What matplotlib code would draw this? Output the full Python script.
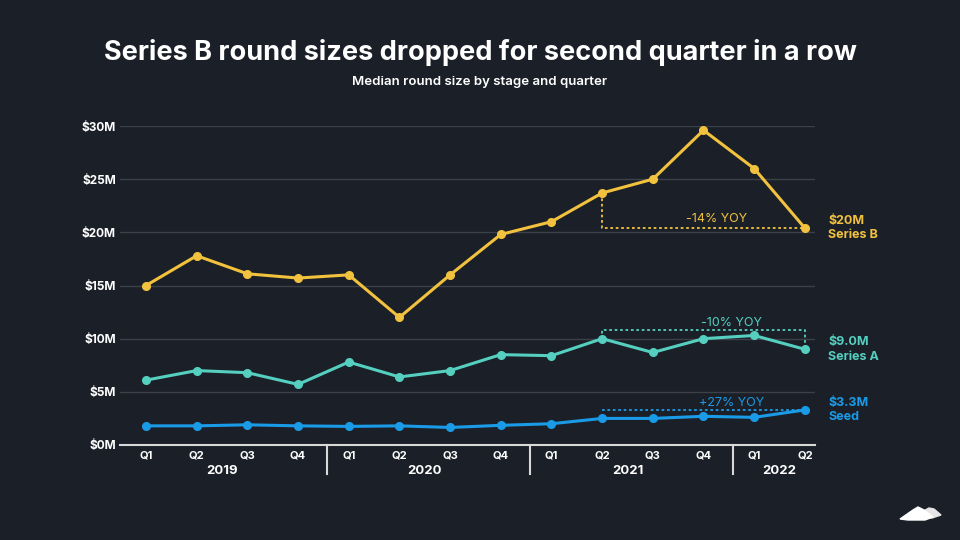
import matplotlib.pyplot as plt
from matplotlib.patches import Polygon
import matplotlib.transforms as mtransforms

plt.rcParams['font.family'] = ['Inter', 'DejaVu Sans']

# data ($M), Q1 2019 .. Q2 2022
quarters = ['Q1', 'Q2', 'Q3', 'Q4'] * 3 + ['Q1', 'Q2']
years = ['2019', '2020', '2021', '2022']
series_b = [15.0, 17.8, 16.1, 15.7, 16.0, 12.0, 16.0, 19.8, 21.0, 23.7, 25.0, 29.6, 26.0, 20.4]
series_a = [6.1, 7.0, 6.8, 5.7, 7.8, 6.4, 7.0, 8.5, 8.4, 10.0, 8.7, 10.0, 10.3, 9.0]
seed = [1.8, 1.8, 1.9, 1.8, 1.75, 1.8, 1.65, 1.85, 2.0, 2.5, 2.5, 2.7, 2.6, 3.3]
yticks = [0, 5, 10, 15, 20, 25, 30]

bg = '#1b2028'
c_b = '#f2c23e'
c_a = '#55cfc0'
c_s = '#1a9be8'
grid_c = '#3b4049'

fig = plt.figure(figsize=(9.6, 5.4), dpi=100)
fig.patch.set_facecolor(bg)
ax = fig.add_axes([120 / 960, 95 / 540, 695 / 960, 319 / 540])
ax.set_facecolor(bg)

x = list(range(len(quarters)))
ax.plot(x, series_b, color=c_b, lw=2.2, marker='o', ms=5.5, zorder=4)
ax.plot(x, series_a, color=c_a, lw=2.2, marker='o', ms=5.5, zorder=4)
ax.plot(x, seed, color=c_s, lw=2.2, marker='o', ms=5.5, zorder=4)

ax.set_xlim(-0.513, 13.2)
ax.set_ylim(0, 30)
ax.set_yticks(yticks)
ax.set_yticklabels(['$%dM' % v for v in yticks], color='white', fontsize=8.5, fontweight='bold')
ax.tick_params(axis='y', length=0, pad=3)
ax.set_xticks([])
for v in yticks[1:]:
    ax.axhline(v, color=grid_c, lw=1, zorder=1)
for s in ['top', 'right', 'left']:
    ax.spines[s].set_visible(False)
ax.spines['bottom'].set_color('#d8d8d8')
ax.spines['bottom'].set_linewidth(1.5)

# quarter / year labels
trans = mtransforms.blended_transform_factory(ax.transData, ax.transAxes)
for i, q in enumerate(quarters):
    ax.text(i, -0.017, q, transform=trans, ha='center', va='top', color='white',
            fontsize=8, fontweight='bold')
year_centers = [1.5, 5.5, 9.5, 12.5]
for xc, yr in zip(year_centers, years):
    ax.text(xc, -0.062, yr, transform=trans, ha='center', va='top', color='white',
            fontsize=9.5, fontweight='bold')
for xs in [3.58, 7.58, 11.58]:
    ax.plot([xs, xs], [0, -0.09], transform=trans, color='#d8d8d8', lw=1.5,
            clip_on=False)

# YOY annotations
ax.plot([9, 9, 13], [series_b[9], series_b[13], series_b[13]], color=c_b, lw=1.3,
        ls=(0, (1.5, 1.5)), zorder=3)
ax.text(11.25, series_b[13] + 0.3, '-14% YOY', color=c_b, fontsize=9, ha='center', va='bottom')
ax.plot([9, 9, 13, 13], [series_a[9], 10.8, 10.8, series_a[13]], color=c_a, lw=1.3,
        ls=(0, (1.5, 1.5)), zorder=3)
ax.text(11.55, 10.9, '-10% YOY', color=c_a, fontsize=9, ha='center', va='bottom')
ax.plot([9, 13], [seed[13], seed[13]], color=c_s, lw=1.3, ls=(0, (1.5, 1.5)), zorder=3)
ax.text(11.55, 3.4, '+27% YOY', color=c_s, fontsize=9, ha='center', va='bottom')

# end labels
for vals, name, lab, col in [(series_b, 'Series B', '$20M', c_b),
                             (series_a, 'Series A', '$9.0M', c_a),
                             (seed, 'Seed', '$3.3M', c_s)]:
    ax.annotate(lab + '\n' + name, xy=(13, vals[-1]), xytext=(17, 0),
                textcoords='offset points', color=col, fontsize=9, fontweight='bold',
                va='center', ha='left', linespacing=1.3, annotation_clip=False)

fig.text(0.5, 1 - 52 / 540, 'Series B round sizes dropped for second quarter in a row',
         color='white', fontsize=19.5, fontweight='bold', ha='center', va='center')
fig.text(0.5, 1 - 82 / 540, 'Median round size by stage and quarter', color='white',
         fontsize=9.5, fontweight='semibold', ha='center', va='center')

# logo
logo1 = Polygon([(900, 519), (913, 510), (918, 507), (924, 510), (933, 517), (925, 520), (908, 520)],
                closed=True, transform=None, color='white')
logo2 = Polygon([(918, 514), (929, 508), (934, 509), (941, 515), (932, 518)],
                closed=True, transform=None, color='#e6e6e6')
fig.patches.extend([logo2, logo1])
for p in [logo1, logo2]:
    p.set_xy([(px, 540 - py) for px, py in p.get_xy()])

fig.savefig('out.png', dpi=100, facecolor=bg)
